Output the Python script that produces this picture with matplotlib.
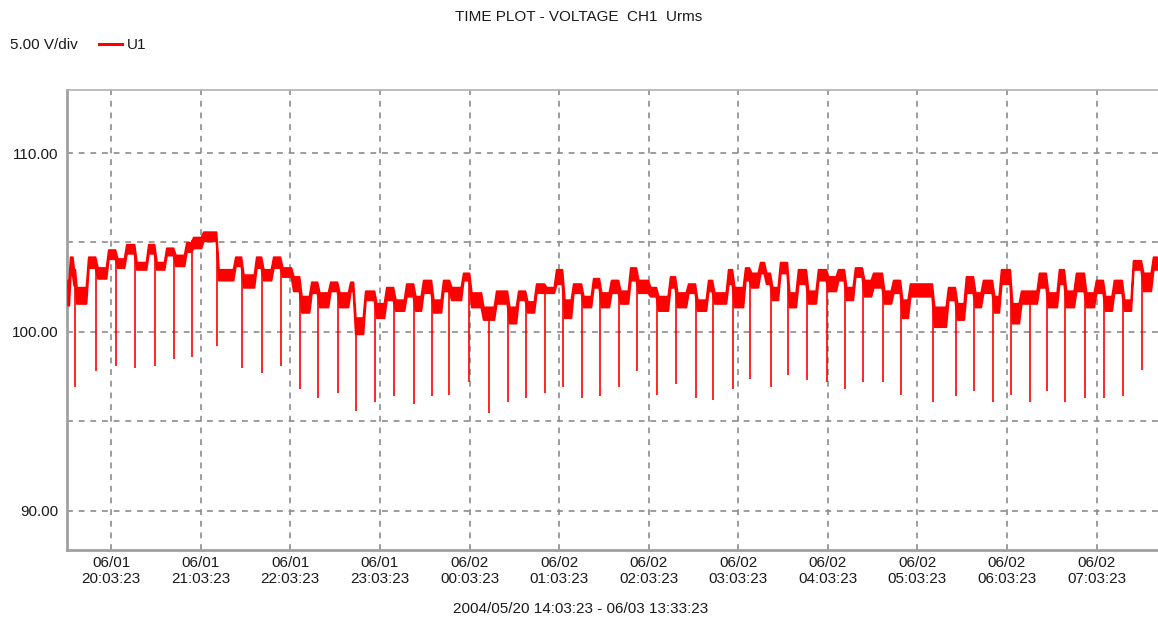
import numpy as np
import matplotlib
matplotlib.use("Agg")
import matplotlib.pyplot as plt
import matplotlib.dates as mdates
from matplotlib.ticker import FixedLocator

plt.rcParams['font.family'] = ['Liberation Sans', 'DejaVu Sans']

# ---------------- data (minutes after 2004-06-01 20:03:23) ----------------
title = "TIME PLOT - VOLTAGE  CH1  Urms"
scale_text = "5.00 V/div"
series_name = "U1"
range_text = "2004/05/20 14:03:23 - 06/03 13:33:23"
t0 = np.datetime64("2004-06-01T20:03:23")

# boundaries of the quasi-steady voltage levels
seg_edges = [-29.5, -28.1, -25.4, -24.1, -16.1, -10.0, -2.7, 3.3, 9.4, 16.1,
             24.1, 29.5, 36.2, 42.2, 49.6, 54.2, 60.9, 71.0, 82.4, 87.7,
             96.4, 101.1, 107.8, 113.8, 121.2, 126.6, 133.3, 138.6, 146.0, 152.0,
             159.4, 162.7, 169.4, 176.8, 183.5, 189.5, 196.9, 202.9, 208.2, 214.9,
             221.6, 227.0, 235.0, 240.4, 248.4, 257.1, 265.8, 271.9, 277.9, 283.9,
             290.6, 297.3, 302.7, 308.7, 315.4, 322.1, 327.4, 334.1, 340.2, 346.9,
             352.2, 360.2, 365.6, 373.6, 378.3, 385.7, 391.7, 399.1, 403.1, 412.5,
             416.5, 423.9, 427.9, 433.9, 437.9, 441.9, 447.3, 453.3, 459.3, 466.0,
             472.7, 479.4, 486.1, 491.5, 497.5, 503.5, 509.6, 516.9, 523.0, 529.0,
             534.3, 550.4, 559.8, 565.8, 571.8, 577.9, 583.2, 590.6, 595.3, 602.6,
             608.7, 620.7, 626.7, 634.1, 638.8, 645.5, 652.2, 658.9, 664.9, 670.9,
             677.6, 683.7, 690.4, 697.1, 701.1]

seg_hi = [102.9, 104.2, 103.5, 102.5, 104.2, 103.6, 104.6, 104.1, 104.9, 103.9,
          104.9, 103.9, 104.7, 104.3, 105.0, 105.3, 105.6, 103.5, 104.2, 103.2,
          104.2, 103.5, 104.2, 103.6, 103.1, 102.0, 102.8, 102.2, 102.8, 102.2,
          102.8, 100.8, 102.3, 101.6, 102.5, 101.8, 102.7, 102.0, 102.9, 101.8,
          102.9, 102.5, 103.3, 102.2, 101.4, 102.3, 101.4, 102.3, 101.7, 102.7,
          102.5, 103.5, 101.8, 102.7, 102.0, 103.0, 102.2, 102.9, 102.3, 103.6,
          102.9, 102.5, 102.0, 103.1, 102.2, 102.7, 101.8, 102.9, 102.2, 103.5,
          102.5, 103.6, 103.3, 103.9, 103.3, 102.5, 103.9, 102.2, 103.5, 102.3,
          103.5, 103.1, 103.5, 102.5, 103.6, 102.9, 103.3, 102.3, 102.9, 101.8,
          102.7, 101.4, 102.5, 101.6, 103.1, 102.2, 102.9, 102.0, 103.5, 101.6,
          102.3, 103.3, 102.2, 103.5, 102.3, 103.3, 102.2, 102.9, 102.0, 102.9,
          101.8, 104.0, 103.3, 104.2]

seg_lo = [101.5, 103.2, 102.6, 101.6, 103.6, 103.0, 104.1, 103.6, 104.4, 103.5,
          104.4, 103.5, 104.3, 103.7, 104.5, 104.7, 105.1, 102.9, 103.7, 102.5,
          103.6, 102.9, 103.6, 103.1, 102.3, 101.1, 102.2, 101.4, 102.3, 101.4,
          102.3, 99.9, 101.8, 100.8, 101.8, 101.2, 102.0, 101.2, 102.2, 101.1,
          102.3, 101.8, 102.9, 101.4, 100.7, 101.6, 100.5, 101.8, 101.1, 102.2,
          102.2, 102.7, 100.8, 102.2, 101.4, 102.5, 101.4, 102.2, 101.6, 102.9,
          102.2, 102.0, 101.2, 102.5, 101.4, 102.2, 101.2, 102.3, 101.6, 102.7,
          101.4, 102.9, 102.5, 103.3, 102.7, 101.8, 103.3, 101.4, 102.7, 101.6,
          102.9, 102.3, 102.9, 101.8, 103.1, 102.0, 102.5, 101.6, 102.2, 100.8,
          102.0, 100.3, 101.8, 100.7, 102.2, 101.4, 102.2, 101.1, 102.7, 100.5,
          101.6, 102.5, 101.4, 102.7, 101.4, 102.3, 101.4, 102.2, 101.2, 102.2,
          101.2, 103.5, 102.3, 103.5]

# short voltage dips
dip_t = [-24.1, -10.0, 3.3, 16.1, 29.5, 42.2, 54.2, 71.0, 87.7, 101.1,
         113.8, 126.6, 138.6, 152.0, 164.1, 176.8, 189.5, 202.9, 214.9, 226.3,
         239.7, 253.1, 265.8, 277.9, 290.6, 302.7, 315.4, 327.4, 340.2, 352.2,
         365.6, 378.3, 391.7, 403.1, 416.5, 427.9, 441.9, 453.3, 466.0, 479.4,
         491.5, 503.5, 516.9, 529.0, 550.4, 565.8, 577.9, 590.6, 602.6, 615.4,
         626.7, 638.8, 652.2, 664.9, 677.6, 690.4]
dip_v = [96.9, 97.8, 98.1, 98.0, 98.1, 98.5, 98.6, 99.2, 98.0, 97.7,
         98.1, 96.8, 96.3, 96.6, 95.6, 96.1, 96.4, 96.0, 96.4, 96.5,
         97.2, 95.5, 96.1, 96.3, 96.6, 96.9, 96.3, 96.4, 96.9, 97.8,
         96.5, 97.1, 96.3, 96.2, 96.8, 97.4, 96.9, 97.6, 97.3, 97.2,
         96.8, 97.2, 97.2, 96.5, 96.1, 96.4, 96.7, 96.1, 96.5, 96.1,
         96.7, 96.1, 96.3, 96.3, 96.4, 97.9]

tick_minutes = [0, 60, 120, 180, 240, 300, 360, 420, 480, 540, 600, 660]
y_major = [90.0, 100.0, 110.0]
y_minor = [95.0, 105.0]

# ---------------- helpers ----------------
def to_dt(minutes):
    m = np.asarray(minutes, dtype=float)
    return t0 + (m * 60000).astype("timedelta64[ms]")

# band points from the segments (short ramps between levels)
bt, bhi, blo = [], [], []
for i in range(len(seg_hi)):
    inset = min(0.8, (seg_edges[i + 1] - seg_edges[i]) / 4)
    bt += [seg_edges[i] + inset, seg_edges[i + 1] - inset]
    bhi += [seg_hi[i], seg_hi[i]]
    blo += [seg_lo[i], seg_lo[i]]
bt = np.array(bt)

RED = "#ff0000"
GRID = "#8c8c8c"

fig = plt.figure(figsize=(11.58, 6.24), dpi=100)
ax_w = 1 - 67 / 1158 + 0.01
ax = fig.add_axes([67 / 1158, 1 - 550 / 624, ax_w, (550 - 90) / 624])

ax.fill_between(to_dt(bt), blo, bhi, color=RED, linewidth=1.4, edgecolor=RED, zorder=3)
top = np.interp(dip_t, bt, bhi)
ax.vlines(to_dt(dip_t), dip_v, top, color=RED, linewidth=1.4, alpha=0.85, zorder=3)

ax.set_ylim(87.82, 113.52)
ax.set_xlim(to_dt([-29.6])[0], to_dt([708.9])[0])

ax.yaxis.set_major_locator(FixedLocator(y_major))
ax.yaxis.set_minor_locator(FixedLocator(y_minor))
ax.set_yticklabels([f"{v:.2f}" for v in y_major])
ax.xaxis.set_major_locator(FixedLocator(mdates.date2num(to_dt(tick_minutes))))
ax.xaxis.set_major_formatter(mdates.DateFormatter("%m/%d\n%H:%M:%S"))

ax.grid(True, which="both", axis="y", color=GRID, linestyle=(0, (3.5, 3.5)), linewidth=1.2, zorder=1)
ax.grid(True, which="major", axis="x", color=GRID, linestyle=(0, (3.5, 3.5)), linewidth=1.2, zorder=1)
ax.tick_params(axis="both", which="both", length=0, labelsize=11, colors="#1a1a1a")
ax.tick_params(axis="y", pad=6)
ax.tick_params(axis="x", pad=4)
for lab in ax.get_xticklabels():
    lab.set_linespacing(1.25)

ax.spines["right"].set_visible(False)
ax.spines["left"].set_color("#a0a0a0")
ax.spines["bottom"].set_color("#a0a0a0")
ax.spines["top"].set_color("#b0b0b0")
ax.spines["left"].set_linewidth(2)
ax.spines["bottom"].set_linewidth(2)
ax.spines["top"].set_linewidth(1.2)

fig.text(579 / 1158, 1 - 17 / 624, title, ha="center", va="center", fontsize=11, color="#1a1a1a")
fig.text(10 / 1158, 1 - 45 / 624, scale_text, ha="left", va="center", fontsize=11, color="#1a1a1a")
fig.add_artist(plt.Line2D([99 / 1158, 122 / 1158], [1 - 44 / 624, 1 - 44 / 624], color=RED, linewidth=2.2))
fig.text(127 / 1158, 1 - 45 / 624, series_name, ha="left", va="center", fontsize=11, color="#1a1a1a")
fig.text(581 / 1158, 1 - 609 / 624, range_text, ha="center", va="center", fontsize=11, color="#1a1a1a")

fig.savefig("out.png", dpi=100)
